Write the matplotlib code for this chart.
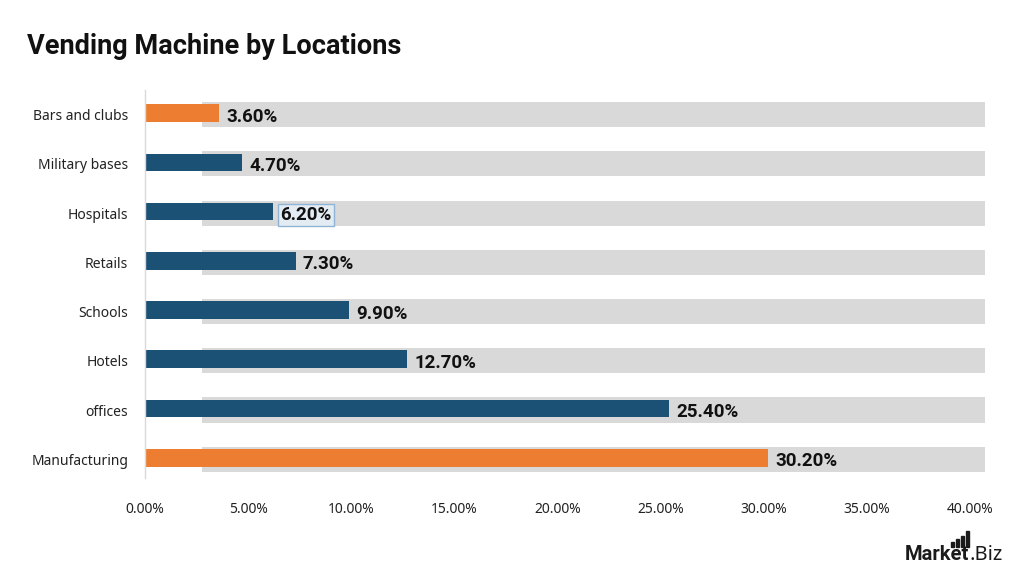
import matplotlib.pyplot as plt
from matplotlib.ticker import FuncFormatter
from matplotlib.patches import Rectangle

plt.rcParams['font.family'] = ['Noto Sans', 'DejaVu Sans']
BOLD = ['Roboto', 'DejaVu Sans']

# data (top to bottom as in the picture)
locations = ['Bars and clubs', 'Military bases', 'Hospitals', 'Retails',
             'Schools', 'Hotels', 'offices', 'Manufacturing']
shares = [3.6, 4.7, 6.2, 7.3, 9.9, 12.7, 25.4, 30.2]
highlight = ['Bars and clubs', 'Manufacturing']

BG_START = 2.76
X_MAX = 40.73
ORANGE = '#ED7D31'
BLUE = '#1C5176'
GRAY = '#D9D9D9'

fig = plt.figure(figsize=(10.24, 5.76), dpi=100)
ax = fig.add_axes([145 / 1024, 1 - 478 / 576, 840 / 1024, 388 / 576])

n = len(locations)
ypos = [n - 1 - i for i in range(n)]

# gray background tracks
ax.barh(ypos, [X_MAX - BG_START] * n, left=BG_START, height=0.51,
        color=GRAY, zorder=1)

colors = [ORANGE if loc in highlight else BLUE for loc in locations]
ax.barh([y + 0.03 for y in ypos], shares, height=0.36, color=colors, zorder=2)

for y, v, loc in zip(ypos, shares, locations):
    kw = {}
    if loc == 'Hospitals':
        kw['bbox'] = dict(boxstyle='square,pad=0.12', facecolor='#E3EBF3',
                          edgecolor='#8FB4D6', linewidth=1)
    ax.text(v + 0.36, y - 0.04, f'{v:.2f}%', va='center', ha='left',
            fontsize=13.5, fontweight='bold', family=BOLD, color='#111111',
            zorder=3, **kw)

ax.set_xlim(0, X_MAX)
ax.set_ylim(-0.38, n - 0.5)
ax.set_yticks(ypos)
ax.set_yticklabels(locations, fontsize=10, color='#222222')
ax.set_xticks(range(0, 41, 5))
ax.xaxis.set_major_formatter(FuncFormatter(lambda x, p: f'{x:.2f}%'))
ax.tick_params(axis='x', length=0, labelsize=10, labelcolor='#222222', pad=17)
ax.tick_params(axis='y', length=0, pad=12)

for s in ['top', 'right', 'bottom']:
    ax.spines[s].set_visible(False)
ax.spines['left'].set_color('#D9D9D9')
ax.spines['left'].set_linewidth(1)

fig.text(27 / 1024, 1 - 47 / 576, 'Vending Machine by Locations',
         fontsize=19.5, fontweight='bold', family=BOLD, va='center', ha='left',
         color='#111111')

# logo text
t1 = fig.text(905 / 1024, 1 - 555 / 576, 'Market', fontsize=14.5, fontweight='bold',
              family=BOLD, ha='left', va='center', color='#1a1a1a')
fig.canvas.draw()
bb = t1.get_window_extent()
fig.text(bb.x1 / 1024, 1 - 555 / 576, '.Biz', fontsize=14.5,
         ha='left', va='center', color='#1a1a1a')
for i, h in enumerate([5, 8, 11, 16]):
    fig.patches.append(Rectangle(((951 + i * 5) / 1024, (576 - 547) / 576),
                                 2.5 / 1024, h / 576, color='#1a1a1a',
                                 transform=fig.transFigure))

fig.savefig('out.png', dpi=100)
